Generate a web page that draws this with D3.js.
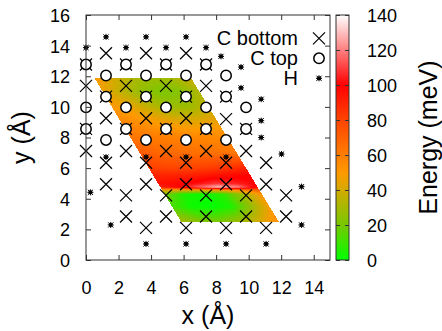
<!DOCTYPE html>
<html>
<head>
<meta charset="utf-8">
<script src="https://cdn.jsdelivr.net/npm/d3@7"></script>
<style>
  html, body { margin: 0; padding: 0; background: #fff; }
  svg { display: block; font-family: "Liberation Sans", Arial, Helvetica, sans-serif; }
</style>
</head>
<body>
<svg id="chart" width="442" height="331"></svg>
<script>
// ---- tick values ----
const xTicks = [0, 2, 4, 6, 8, 10, 12, 14];
const yTicks = [0, 2, 4, 6, 8, 10, 12, 14, 16];
const energyTicks = [0, 20, 40, 60, 80, 100, 120, 140];

// ---- atom positions [x, y] in Å ----
const cBottom = [
  [0, 12.77], [0, 11.37], [0, 8.56], [0, 7.12],
  [1.23, 13.5], [1.23, 10.67], [1.23, 9.26], [1.23, 6.35], [1.23, 4.95],
  [2.46, 12.77], [2.46, 11.37], [2.46, 8.56], [2.46, 7.12], [2.46, 4.22], [2.46, 2.84],
  [3.69, 13.5], [3.69, 10.67], [3.69, 9.26], [3.69, 6.35], [3.69, 4.95], [3.69, 2.1],
  [4.92, 12.77], [4.92, 11.37], [4.92, 8.56], [4.92, 7.12], [4.92, 4.22], [4.92, 2.84],
  [6.15, 13.5], [6.15, 10.67], [6.15, 9.26], [6.15, 6.35], [6.15, 4.95], [6.15, 2.1],
  [7.38, 12.77], [7.38, 11.37], [7.38, 8.56], [7.38, 7.12], [7.38, 4.22], [7.38, 2.84],
  [8.61, 10.67], [8.61, 9.2], [8.61, 6.35], [8.61, 4.95], [8.61, 2.1],
  [9.84, 8.56], [9.84, 7.12], [9.84, 4.22], [9.84, 2.84],
  [11.07, 6.35], [11.07, 4.95], [11.07, 2.1],
  [12.3, 4.22], [12.3, 2.84]
];
const cTop = [
  [0, 12.77], [0, 9.97], [0, 8.56],
  [1.23, 12.05], [1.23, 10.67], [1.23, 7.84],
  [2.46, 12.77], [2.46, 9.97], [2.46, 8.56],
  [3.69, 12.05], [3.69, 10.67], [3.69, 7.84],
  [4.92, 12.77], [4.92, 9.97], [4.92, 8.56],
  [6.15, 12.05], [6.15, 10.67], [6.15, 7.84],
  [7.38, 12.77], [7.38, 9.97], [7.38, 8.56],
  [8.61, 12.05], [8.61, 10.67], [8.61, 7.84],
  [9.84, 9.97], [9.84, 8.56]
];
const hydrogen = [
  [1.23, 14.57], [3.69, 14.57], [6.15, 14.57],
  [0, 13.87], [2.46, 13.87], [4.92, 13.87], [7.38, 13.87],
  [8.3, 13.3], [9.53, 12.6], [9.53, 11.24], [10.77, 10.5], [10.77, 9.1], [10.77, 8.0],
  [12.02, 6.92], [13.25, 4.79], [13.25, 2.29],
  [1.23, 6.72], [3.69, 6.72], [6.15, 6.72], [8.61, 6.72],
  [0.27, 4.42], [1.52, 2.29], [3.69, 1.05], [6.15, 1.05], [8.61, 1.05], [11.07, 1.05]
];

// ---- energy map (meV) over the scanned cell ----
// cell corners in Å: top-left, top-right, bottom-right, bottom-left
const mapCorners = [[0.51, 11.9], [6.45, 11.9], [11.85, 2.5], [5.85, 2.5]];
// sample rows (y, Å) and fractional positions across each row
const energyRowsY = [11.9, 11.0, 10.0, 9.0, 8.0, 7.0, 6.0, 5.5, 5.0, 4.75, 4.55, 4.3, 3.5, 2.5];
const energyColsU = [0, 0.2, 0.4, 0.6, 0.8, 1.0];
const energy = [
  [50, 40, 32, 28, 30, 38],
  [46, 35, 26, 21, 23, 32],
  [50, 44, 35, 28, 28, 36],
  [57, 53, 48, 44, 44, 46],
  [63, 61, 59, 57, 56, 56],
  [72, 68, 66, 65, 64, 62],
  [82, 80, 80, 82, 85, 90],
  [90, 90, 92, 95, 98, 100],
  [95, 98, 102, 108, 105, 100],
  [90, 100, 115, 130, 120, 95],
  [45, 40, 40, 45, 55, 70],
  [20, 5, 2, 8, 28, 52],
  [12, 2, 0, 4, 25, 48],
  [30, 22, 20, 28, 40, 55]
];

// palette stops
const paletteStops = [0, 20, 40, 50, 80, 100, 140];
const paletteColors = ["#00ff00", "#78c800", "#d4aa00", "#ff9900", "#ff4400", "#ff0000", "#ffffff"];

// ---- layout ----
const svg = d3.select("#chart");
const plot = { left: 86, right: 330, top: 15, bottom: 260 };
const cbar = { left: 336, right: 349 };
const borderColor = "#333";
const font = "18px";

const x = d3.scaleLinear().domain([0, 15]).range([plot.left, plot.right]);
const y = d3.scaleLinear().domain([0, 16]).range([plot.bottom, plot.top]);
const cbY = d3.scaleLinear().domain([0, 140]).range([plot.bottom, plot.top]);
const color = d3.scaleLinear().domain(paletteStops).range(paletteColors)
  .interpolate(d3.interpolateRgb).clamp(true);

// ---- energy map raster ----
function sampleEnergy(px, py) {
  const [tl, tr, br, bl] = mapCorners;
  if (py > tl[1] || py < bl[1]) return null;
  const t = (tl[1] - py) / (tl[1] - bl[1]);
  const left = tl[0] + t * (bl[0] - tl[0]);
  const right = tr[0] + t * (br[0] - tr[0]);
  const u = (px - left) / (right - left);
  if (u < 0 || u > 1) return null;
  let j = 0;
  while (j < energyRowsY.length - 2 && py < energyRowsY[j + 1]) j++;
  const fy = (energyRowsY[j] - py) / (energyRowsY[j] - energyRowsY[j + 1]);
  let i = 0;
  while (i < energyColsU.length - 2 && u > energyColsU[i + 1]) i++;
  const fx = (u - energyColsU[i]) / (energyColsU[i + 1] - energyColsU[i]);
  const a = energy[j][i] * (1 - fx) + energy[j][i + 1] * fx;
  const b = energy[j + 1][i] * (1 - fx) + energy[j + 1][i + 1] * fx;
  return a * (1 - fy) + b * fy;
}

const W = plot.right - plot.left, H = plot.bottom - plot.top;
const canvas = document.createElement("canvas");
canvas.width = W; canvas.height = H;
const ctx = canvas.getContext("2d");
const img = ctx.createImageData(W, H);
for (let r = 0; r < H; r++) {
  for (let c = 0; c < W; c++) {
    const e = sampleEnergy(x.invert(plot.left + c + 0.5), y.invert(plot.top + r + 0.5));
    const k = (r * W + c) * 4;
    if (e === null) { img.data[k + 3] = 0; continue; }
    const col = d3.rgb(color(e));
    img.data[k] = col.r; img.data[k + 1] = col.g; img.data[k + 2] = col.b; img.data[k + 3] = 255;
  }
}
ctx.putImageData(img, 0, 0);
svg.append("image")
  .attr("x", plot.left).attr("y", plot.top)
  .attr("width", W).attr("height", H)
  .attr("href", canvas.toDataURL());

// ---- atoms ----
const crossPath = "M-6,-6L6,6M-6,6L6,-6";
const starPath = "M-3,0L3,0M0,-3L0,3M-2.6,-2.6L2.6,2.6M-2.6,2.6L2.6,-2.6";

function drawCross(g) {
  g.append("path").attr("d", crossPath).attr("stroke", "#000").attr("stroke-width", 1.2).attr("fill", "none");
}
function drawCircle(g) {
  g.append("circle").attr("r", 5.2).attr("fill", "#fff").attr("stroke", "#000").attr("stroke-width", 1.5);
}
function drawH(g) {
  g.append("path").attr("d", starPath).attr("stroke", "#000").attr("stroke-width", 1);
  g.append("rect").attr("x", -1.8).attr("y", -1.8).attr("width", 3.6).attr("height", 3.6).attr("fill", "#000");
}

svg.append("g").selectAll("g").data(cBottom).join("g")
  .attr("transform", d => `translate(${x(d[0])},${y(d[1])})`)
  .each(function () { drawCross(d3.select(this)); });
svg.append("g").selectAll("g").data(cTop).join("g")
  .attr("transform", d => `translate(${x(d[0])},${y(d[1])})`)
  .each(function () { drawCircle(d3.select(this)); });
svg.append("g").selectAll("g").data(hydrogen).join("g")
  .attr("transform", d => `translate(${x(d[0])},${y(d[1])})`)
  .each(function () { drawH(d3.select(this)); });

// ---- axes (ticks inside, mirrored) ----
function styleAxis(g) {
  g.select(".domain").remove();
  g.selectAll(".tick line").attr("stroke", borderColor);
  g.selectAll("text").attr("fill", "#000").style("font-size", font)
    .style("font-family", "'Liberation Sans', Arial, sans-serif");
}
svg.append("g").attr("transform", `translate(0,${plot.bottom})`)
  .call(d3.axisBottom(x).tickValues(xTicks).tickSize(-5).tickFormat(d3.format("d")))
  .call(styleAxis)
  .call(g => g.selectAll("text").attr("y", 34).attr("dy", 0));
svg.append("g").attr("transform", `translate(0,${plot.top})`)
  .call(d3.axisTop(x).tickValues(xTicks).tickSize(-5).tickFormat(""))
  .call(styleAxis);
svg.append("g").attr("transform", `translate(${plot.left},0)`)
  .call(d3.axisLeft(y).tickValues(yTicks).tickSize(-5).tickFormat(d3.format("d")))
  .call(styleAxis)
  .call(g => g.selectAll("text").attr("x", -16).attr("dy", "0.36em"));
svg.append("g").attr("transform", `translate(${plot.right},0)`)
  .call(d3.axisRight(y).tickValues(yTicks).tickSize(-5).tickFormat(""))
  .call(styleAxis);

svg.append("rect")
  .attr("x", plot.left).attr("y", plot.top).attr("width", W).attr("height", H)
  .attr("fill", "none").attr("stroke", borderColor).attr("stroke-width", 1);

// ---- legend ----
const legendItems = [
  { label: "C bottom", draw: drawCross },
  { label: "C top", draw: drawCircle },
  { label: "H", draw: drawH }
];
const legend = svg.append("g");
legendItems.forEach((item, k) => {
  const cy = 38.3 + k * 20;
  legend.append("text").attr("x", 298).attr("y", cy + 6.4)
    .attr("text-anchor", "end").style("font-size", "20px").text(item.label);
  item.draw(legend.append("g").attr("transform", `translate(319,${cy})`));
});

// ---- colour bar ----
const defs = svg.append("defs");
const grad = defs.append("linearGradient").attr("id", "cbgrad")
  .attr("x1", 0).attr("y1", 1).attr("x2", 0).attr("y2", 0);
d3.range(0, 141, 5).forEach(v => {
  grad.append("stop").attr("offset", v / 140).attr("stop-color", color(v));
});
svg.append("rect")
  .attr("x", cbar.left).attr("y", plot.top)
  .attr("width", cbar.right - cbar.left).attr("height", H)
  .attr("fill", "url(#cbgrad)").attr("stroke", borderColor).attr("stroke-width", 1);
svg.append("g").attr("transform", `translate(${cbar.right},0)`)
  .call(d3.axisRight(cbY).tickValues(energyTicks).tickSize(-4).tickFormat(d3.format("d")))
  .call(styleAxis)
  .call(g => g.selectAll("text").attr("x", 18).attr("dy", "0.36em"));
svg.append("g").attr("transform", `translate(${cbar.left},0)`)
  .call(d3.axisLeft(cbY).tickValues(energyTicks).tickSize(-4).tickFormat(""))
  .call(styleAxis);

// ---- axis titles ----
svg.append("text").attr("x", (plot.left + plot.right) / 2).attr("y", 324)
  .attr("text-anchor", "middle").style("font-size", "25px").text("x (Å)");
svg.append("text").attr("transform", `translate(30,${(plot.top + plot.bottom) / 2}) rotate(-90)`)
  .attr("text-anchor", "middle").style("font-size", "25px").text("y (Å)");
svg.append("text").attr("transform", `translate(437,${(plot.top + plot.bottom) / 2}) rotate(-90)`)
  .attr("text-anchor", "middle").style("font-size", "25px").text("Energy (meV)");
</script>
</body>
</html>
